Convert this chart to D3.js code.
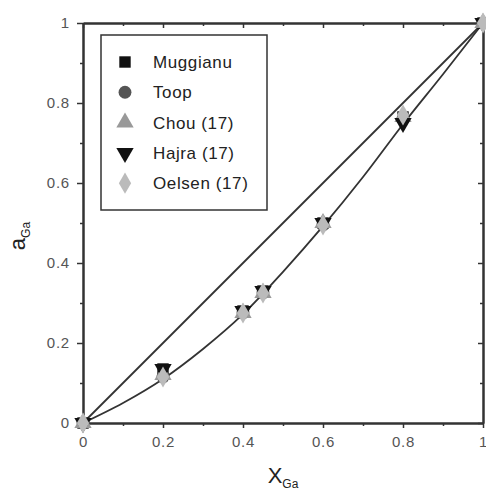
<!DOCTYPE html>
<html>
<head>
<meta charset="utf-8">
<script src="https://cdn.jsdelivr.net/npm/d3@7"></script>
<style>
  body { margin: 0; background: #fff; }
  text { font-family: "Liberation Sans", Arial, sans-serif; }
</style>
</head>
<body>
<div id="chart"></div>
<script>
// Data
const xGa = [0, 0.2, 0.4, 0.45, 0.6, 0.8, 1];
const muggianu = [0, 0.135, 0.28, 0.33, 0.5, 0.765, 1];
const toop = [0, 0.115, 0.275, 0.325, 0.495, 0.76, 1];
const chou = [0, 0.12, 0.275, 0.325, 0.5, 0.765, 1];
const hajra = [0, 0.135, 0.28, 0.33, 0.5, 0.75, 1];
const oelsen = [0, 0.115, 0.275, 0.325, 0.495, 0.77, 1];

// Fitted curve and ideal line
const curveX = [0, 0.1, 0.2, 0.3, 0.4, 0.5, 0.6, 0.7, 0.8, 0.9, 1];
const curveY = [0, 0.05, 0.11, 0.185, 0.272, 0.378, 0.492, 0.615, 0.747, 0.872, 1];
const idealX = [0, 1];
const idealY = [0, 1];

const tickValues = [0, 0.2, 0.4, 0.6, 0.8, 1];
const minorTicks = [0.1, 0.3, 0.5, 0.7, 0.9];

const seriesNames = ["Muggianu", "Toop", "Chou (17)", "Hajra (17)", "Oelsen (17)"];
const seriesValues = [muggianu, toop, chou, hajra, oelsen];
const seriesColors = ["#111", "#555", "#999", "#111", "#bbb"];
const seriesSymbols = [d3.symbolSquare, d3.symbolCircle, d3.symbolTriangle, d3.symbolTriangle, d3.symbolDiamond];
const seriesRotate = [0, 0, 0, 180, 0];

const width = 486, height = 491;
const margin = { top: 23, right: 3, bottom: 68, left: 83 };
const w = width - margin.left - margin.right;
const h = height - margin.top - margin.bottom;

const svg = d3.select("#chart").append("svg")
  .attr("width", width)
  .attr("height", height);

const chart = svg.append("g")
  .attr("transform", `translate(${margin.left},${margin.top})`);

const xScale = d3.scaleLinear().domain([0, 1]).range([0, w]);
const yScale = d3.scaleLinear().domain([0, 1]).range([h, 0]);

const fmt = d => d === 0 || d === 1 ? d3.format("d")(d) : d3.format(".1f")(d);
const axisColor = "#333";

// Axes with major and minor ticks
function styleAxis(g) {
  g.select(".domain").attr("stroke", axisColor).attr("stroke-width", 2);
  g.selectAll(".tick line").attr("stroke", axisColor).attr("stroke-width", 1.5);
  g.selectAll(".tick text")
    .attr("fill", "#555")
    .style("font-size", "15px")
    .style("letter-spacing", "0.8px");
}

chart.append("g")
  .attr("transform", `translate(0,${h})`)
  .call(d3.axisBottom(xScale).tickValues(tickValues).tickFormat(fmt).tickSize(5).tickSizeOuter(0).tickPadding(8))
  .call(styleAxis);
chart.append("g")
  .attr("transform", `translate(0,${h})`)
  .call(d3.axisBottom(xScale).tickValues(minorTicks).tickFormat("").tickSize(3).tickSizeOuter(0))
  .call(styleAxis);

chart.append("g")
  .call(d3.axisLeft(yScale).tickValues(tickValues).tickFormat(fmt).tickSize(6).tickSizeOuter(0).tickPadding(7))
  .call(styleAxis);
chart.append("g")
  .call(d3.axisLeft(yScale).tickValues(minorTicks).tickFormat("").tickSize(3).tickSizeOuter(0))
  .call(styleAxis);

// Mirror axes with inward ticks
chart.append("g")
  .call(d3.axisBottom(xScale).tickValues(tickValues).tickFormat("").tickSize(5).tickSizeOuter(0))
  .call(styleAxis);
chart.append("g")
  .call(d3.axisBottom(xScale).tickValues(minorTicks).tickFormat("").tickSize(3).tickSizeOuter(0))
  .call(styleAxis);
chart.append("g")
  .attr("transform", `translate(${w},0)`)
  .call(d3.axisLeft(yScale).tickValues(tickValues).tickFormat("").tickSize(5).tickSizeOuter(0))
  .call(styleAxis);
chart.append("g")
  .attr("transform", `translate(${w},0)`)
  .call(d3.axisLeft(yScale).tickValues(minorTicks).tickFormat("").tickSize(3).tickSizeOuter(0))
  .call(styleAxis);

// Axis titles
const yTitle = chart.append("text")
  .attr("transform", `translate(${-58},${h / 2 + 13}) rotate(-90)`)
  .attr("text-anchor", "middle")
  .attr("fill", "#222")
  .style("font-size", "22px");
yTitle.append("tspan").text("a");
yTitle.append("tspan").attr("dy", 5).style("font-size", "12px").text("Ga");

const xTitle = chart.append("text")
  .attr("x", xScale(0.5))
  .attr("y", h + 60)
  .attr("text-anchor", "middle")
  .attr("fill", "#222")
  .style("font-size", "22px");
xTitle.append("tspan").text("X");
xTitle.append("tspan").attr("dy", 5).style("font-size", "12px").text("Ga");

// Lines
const line = d3.line()
  .x(d => xScale(d[0]))
  .y(d => yScale(d[1]));

chart.append("path")
  .datum(d3.zip(idealX, idealY))
  .attr("fill", "none")
  .attr("stroke", "#333")
  .attr("stroke-width", 1.8)
  .attr("d", line);

chart.append("path")
  .datum(d3.zip(curveX, curveY))
  .attr("fill", "none")
  .attr("stroke", "#333")
  .attr("stroke-width", 1.8)
  .attr("d", line.curve(d3.curveCatmullRom));

// Points
const symbolSize = 130;
seriesValues.forEach((vals, i) => {
  chart.selectAll(`.pt-${i}`)
    .data(d3.zip(xGa, vals))
    .join("path")
    .attr("class", `pt-${i}`)
    .attr("d", d3.symbol().type(seriesSymbols[i]).size(symbolSize))
    .attr("transform", d => `translate(${xScale(d[0])},${yScale(d[1])}) rotate(${seriesRotate[i]})`)
    .attr("fill", seriesColors[i]);
});

// Legend
const legend = chart.append("g")
  .attr("transform", "translate(18,12)");

legend.append("rect")
  .attr("width", 166)
  .attr("height", 175)
  .attr("fill", "#fff")
  .attr("stroke", "#333")
  .attr("stroke-width", 1.5);

seriesNames.forEach((name, i) => {
  const row = legend.append("g")
    .attr("transform", `translate(0,${27 + i * 30.3})`);
  row.append("path")
    .attr("d", d3.symbol().type(seriesSymbols[i]).size(symbolSize))
    .attr("transform", `translate(24,0) rotate(${seriesRotate[i]})`)
    .attr("fill", seriesColors[i]);
  row.append("text")
    .attr("x", 52)
    .attr("y", 6)
    .attr("fill", "#222")
    .style("font-size", "17px")
    .style("letter-spacing", "0.6px")
    .text(name);
});
</script>
</body>
</html>
